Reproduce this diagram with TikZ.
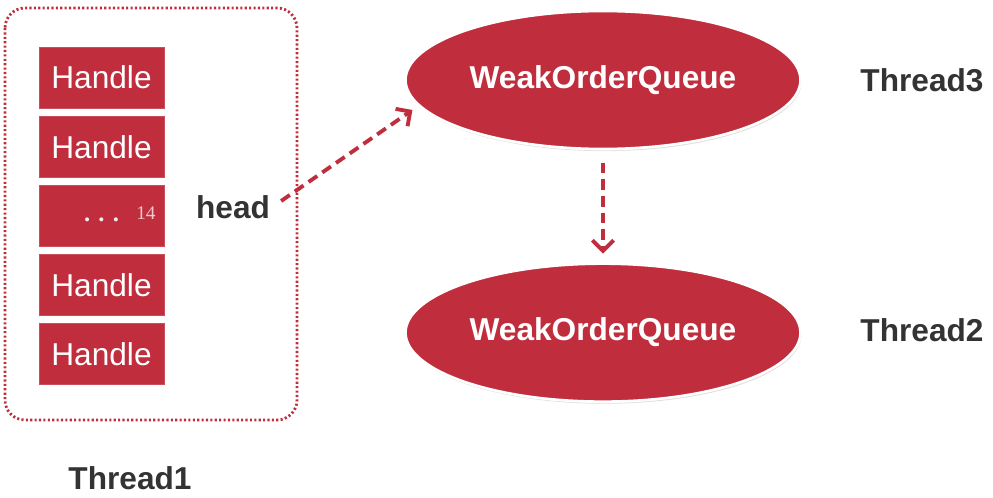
\documentclass[tikz,border=0pt]{standalone}
\usepackage{fontspec}
\setmainfont{Liberation Sans}
\newfontfamily\numfont{Liberation Serif}
\usepackage{tikz}
\usetikzlibrary{positioning,shapes.geometric,shadows,arrows.meta}
\definecolor{qred}{RGB}{192,46,62}
\definecolor{tgray}{RGB}{51,51,51}

\begin{document}
\begin{tikzpicture}[node distance=0.15cm, auto,
	handle/.style={fill=qred, draw=qred!85!white, minimum width=2.5cm, minimum height=1.22cm, text=white, font=\fontsize{18}{20}\selectfont},
	queue/.style={ellipse, fill=qred, draw=white, line width=1.5pt, minimum width=7.9cm, minimum height=2.76cm, text=white, font=\bfseries\fontsize{18}{20}\selectfont, drop shadow={opacity=0.25, shadow xshift=0.6pt, shadow yshift=-1.2pt}},
	thread/.style={text=tgray, font=\bfseries\fontsize{18}{20}\selectfont},
	link/.style={draw=qred, line width=2.2pt, dash pattern=on 6pt off 3.5pt, -{Straight Barb[length=6pt,width=12pt]}}]
				\useasboundingbox (0,0) rectangle (19.86,-9.96);
				\draw[qred, line width=1.6pt, dash pattern=on 1.2pt off 1.3pt, rounded corners=0.4cm] (0.1,-0.16) rectangle (5.94,-8.4);
				\node[handle] (h1) at (2.03,-1.55) {Handle};
				\node[handle] (h2) [below=of h1] {Handle};
				\node[handle] (h3) [below=of h2] {};
				\node[text=white!90!qred, font=\numfont\bfseries\fontsize{14}{16}\selectfont] (dots) at ([yshift=-0.08cm]h3.center) {.\,\,.\,\,.};
				\node[text=white!75!qred, font=\numfont\fontsize{11}{12}\selectfont, anchor=east] (num) at ([xshift=-0.05cm,yshift=0.05cm]h3.east) {14};
				\node[handle] (h4) [below=of h3] {Handle};
				\node[handle] (h5) [below=of h4] {Handle};
				\node[thread] (head) at (4.66,-4.14) {head};
				\node[queue] (wq3) at (12.06,-1.6) {WeakOrderQueue};
				\node[queue] (wq2) [below=2.24cm of wq3] {WeakOrderQueue};
				\node[thread] (t3) at (18.44,-1.6) {Thread3};
				\node[thread] (t2) at (18.44,-6.6) {Thread2};
				\node[thread] (t1) at (2.6,-9.56) {Thread1};
				\draw[link, shorten >=4pt] ([xshift=0.1cm,yshift=0.12cm]head.east) to (wq3.188);
				\draw[link, shorten <=7pt, shorten >=5pt] (wq3.south) to (wq2.north);
			\end{tikzpicture}
\end{document}
